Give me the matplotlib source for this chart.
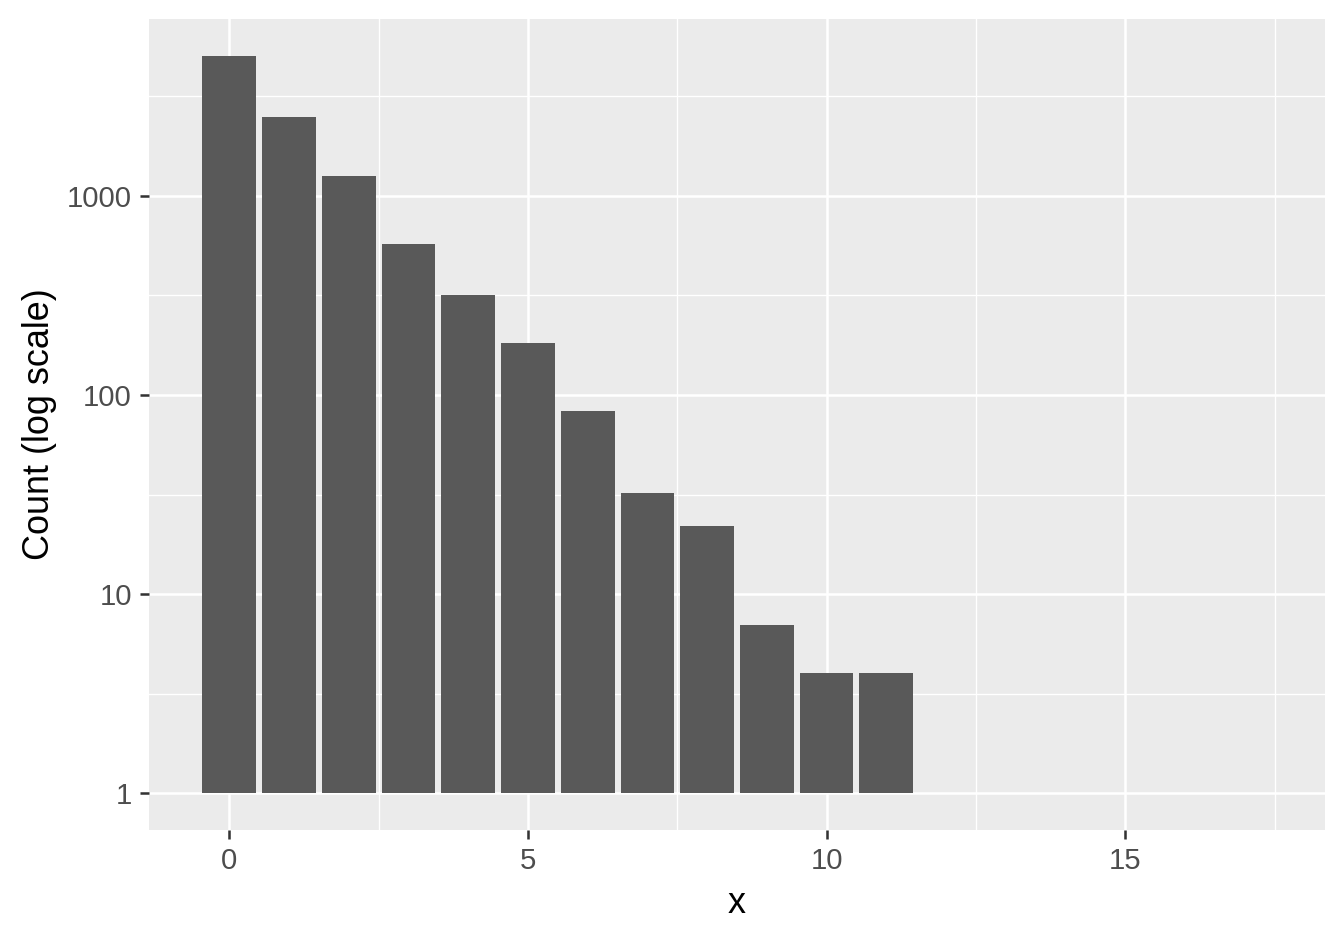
import numpy as np
import matplotlib.pyplot as plt
from matplotlib.ticker import FixedLocator, NullFormatter

plt.rcParams['font.family'] = ['Liberation Sans', 'DejaVu Sans']

# counts per x value
x_vals = [0, 1, 2, 3, 4, 5, 6, 7, 8, 9, 10, 11]
counts = [5050, 2500, 1260, 575, 318, 183, 83, 32, 22, 7, 4, 4]
x_data_max = 17  # empty bin that still sets the scale range

x_ticks = [0, 5, 10, 15]
y_ticks = [1, 10, 100, 1000]
y_labels = ['1', '10', '100', '1000']

bar_w = 0.9
fig = plt.figure(figsize=(7, 940 / 192), dpi=192)
ax = fig.add_axes([149 / 1344, 1 - 830 / 940, 1176 / 1344, 811 / 940])
ax.set_facecolor('#EBEBEB')

ax.bar(x_vals, np.array(counts) - 1, bottom=1, width=bar_w, color='#595959', zorder=3)

# ggplot style expansion
lo, hi = -bar_w / 2, x_data_max + bar_w / 2
pad = (hi - lo) * 0.05
ax.set_xlim(lo - pad, hi + pad)

ax.set_yscale('log')
lmax = np.log10(max(counts))
ax.set_ylim(10 ** (-0.05 * lmax), 10 ** (lmax * 1.05))

ax.xaxis.set_major_locator(FixedLocator(x_ticks))
ax.xaxis.set_minor_locator(FixedLocator([2.5, 7.5, 12.5, 17.5]))
ax.yaxis.set_major_locator(FixedLocator(y_ticks))
ax.set_yticklabels(y_labels)
ax.yaxis.set_minor_locator(FixedLocator([10 ** (k + 0.5) for k in range(4)]))
ax.yaxis.set_minor_formatter(NullFormatter())

ax.grid(which='major', color='white', linewidth=0.95, zorder=1)
ax.grid(which='minor', color='white', linewidth=0.5, zorder=1)
ax.set_axisbelow(True)

for s in ax.spines.values():
    s.set_visible(False)

ax.tick_params(which='major', length=3.4, width=0.95, color='#333333',
               labelsize=11, labelcolor='#4D4D4D', pad=3)
ax.tick_params(which='minor', length=0)

ax.set_xlabel('x', fontsize=13.5, color='black', labelpad=4)
ax.set_ylabel('Count (log scale)', fontsize=13.5, color='black', labelpad=3.8)

fig.savefig('out.png', dpi=192)
